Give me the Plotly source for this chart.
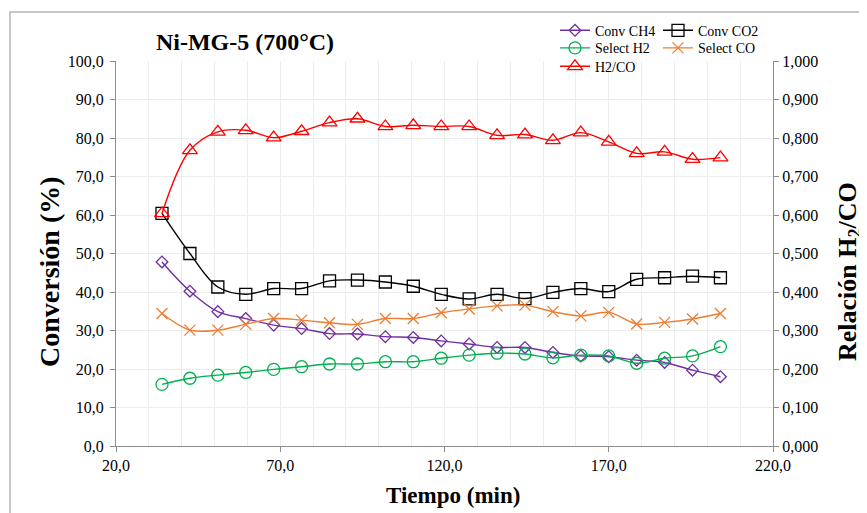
import plotly.graph_objects as go

# ---- data ----
tiempo = [34, 42.5, 51, 59.5, 68, 76.5, 85, 93.5, 102, 110.5, 119,
          127.5, 136, 144.5, 153, 161.5, 170, 178.5, 187, 195.5, 204]
conv_ch4 = [47.8, 40.2, 34.9, 33.1, 31.4, 30.5, 29.2, 29.1, 28.4, 28.2, 27.3,
            26.5, 25.6, 25.6, 24.3, 23.4, 23.2, 22.3, 21.7, 19.7, 18.0]
conv_co2 = [60.4, 50.0, 41.3, 39.4, 40.9, 40.9, 42.9, 43.1, 42.6, 41.5, 39.4,
            38.2, 39.4, 38.3, 39.9, 40.9, 40.1, 43.3, 43.7, 44.1, 43.7]
select_h2 = [16.0, 17.6, 18.4, 19.1, 19.9, 20.6, 21.3, 21.3, 21.9, 21.9, 22.8,
             23.6, 24.1, 23.9, 22.9, 23.6, 23.4, 21.5, 22.8, 23.4, 25.8]
select_co = [34.4, 30.1, 30.1, 31.6, 33.1, 32.7, 32.0, 31.6, 33.1, 33.1, 34.6,
             35.6, 36.4, 36.6, 34.9, 33.8, 34.7, 31.7, 32.1, 33.0, 34.4]
h2_co = [0.604, 0.768, 0.816, 0.820, 0.801, 0.8175, 0.840, 0.850, 0.830, 0.833, 0.830,
         0.830, 0.807, 0.809, 0.794, 0.814, 0.790, 0.760, 0.764, 0.745, 0.749]

FONT = "Liberation Serif"

fig = go.Figure()

def add(name, y, color, symbol, size, legend, yaxis="y"):
    fig.add_trace(go.Scatter(
        x=tiempo, y=y, name=name, mode="lines+markers",
        line=dict(color=color, width=1.4, shape="spline", smoothing=1),
        marker=dict(symbol=symbol, size=size, color=color,
                    line=dict(color=color, width=1.3)),
        legend=legend, yaxis=yaxis))

add("Conv CH4", conv_ch4, "#7030A0", "diamond-open", 9, "legend")
add("Conv CO2", conv_co2, "#000000", "square-open", 12, "legend")
add("Select H2", select_h2, "#00B050", "circle-open", 12, "legend2")
add("Select CO", select_co, "#ED7D31", "x-thin-open", 11, "legend2")
add("H2/CO", h2_co, "#FF0000", "triangle-up-open", 13, "legend3", yaxis="y2")

axis_line = "#8c8c8c"
grid = "#ececec"

# figure is placed 8px inside the page (body margin), so it is 859x505
W, H = 859, 505
L, R, T, B = 108, 94, 53, 67
PW, PH = W - L - R, H - T - B

def px(x):
    return (x - 8 - L) / PW

def py(y):
    return (H - B - (y - 8)) / PH

leg_common = dict(orientation="h", xanchor="left", yanchor="middle",
                  font=dict(family=FONT, size=14), bgcolor="rgba(0,0,0,0)",
                  itemwidth=30, entrywidth=58, entrywidthmode="pixels")

fig.update_layout(
    width=W, height=H,
    margin=dict(l=L, r=R, t=T, b=B, autoexpand=False),
    paper_bgcolor="white", plot_bgcolor="white",
    separators=",.",
    font=dict(family=FONT, size=16, color="#000000"),
    title=dict(text="<b>Ni-MG-5 (700°C)</b>", font=dict(family=FONT, size=24),
               xref="paper", x=px(245), xanchor="center",
               yref="container", y=1 - (42 - 8) / H, yanchor="middle"),
    xaxis=dict(range=[20, 220], tick0=20, dtick=50, tickformat=".1f",
               showline=True, linecolor=axis_line, linewidth=1.3,
               ticks="outside", ticklen=5, tickcolor=axis_line,
               showgrid=True, gridcolor=grid, zeroline=False,
               minor=dict(dtick=10, showgrid=True, gridcolor=grid, ticks="")),
    yaxis=dict(range=[0, 100], dtick=10, tickformat=".1f",
               showline=True, linecolor=axis_line, linewidth=1.3,
               ticks="outside", ticklen=5, tickcolor=axis_line,
               ticklabelstandoff=3,
               showgrid=True, gridcolor=grid, zeroline=False),
    yaxis2=dict(range=[0, 1], dtick=0.1, tickformat=".3f", overlaying="y", side="right",
                showline=True, linecolor=axis_line, linewidth=1.3,
                ticks="outside", ticklen=5, tickcolor=axis_line,
                showgrid=False, zeroline=False),
    legend=dict(x=px(555), y=py(30.7), **leg_common),
    legend2=dict(x=px(555), y=py(48.3), **leg_common),
    legend3=dict(x=px(555), y=py(66.7), **leg_common),
    annotations=[
        dict(text="<b>Tiempo (min)</b>", xref="paper", yref="paper",
             x=px(453), y=py(495), showarrow=False, xanchor="center", yanchor="middle",
             font=dict(family=FONT, size=23)),
        dict(text="<b>Conversión (%)</b>", xref="paper", yref="paper",
             x=px(49), y=py(272), showarrow=False, xanchor="center", yanchor="middle",
             textangle=-90, font=dict(family=FONT, size=28)),
        dict(text="<b>Relación H<sub>2</sub>/CO</b>", xref="paper", yref="paper",
             x=px(849), y=py(272), showarrow=False, xanchor="center", yanchor="middle",
             textangle=-90, font=dict(family=FONT, size=26)),
    ],
    shapes=[dict(type="rect", xref="paper", yref="paper",
                 x0=px(10), x1=1.5, y0=-0.5, y1=py(12),
                 line=dict(color="#b5b5b5", width=1.5), layer="below")],
)

fig.write_html("out.html")
